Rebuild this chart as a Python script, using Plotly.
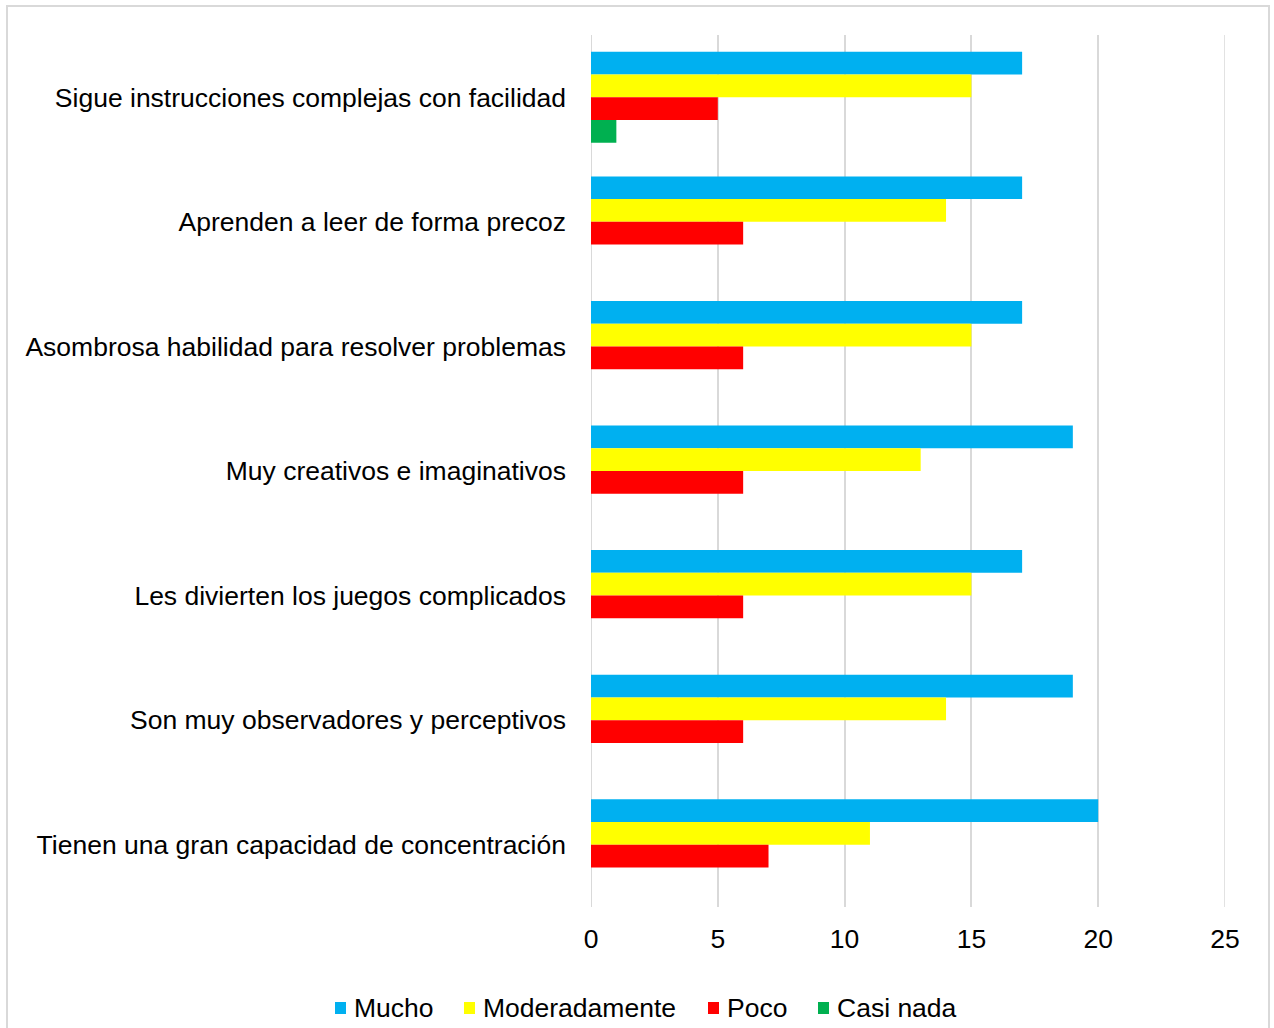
import plotly.graph_objects as go

categories = [
    "Sigue instrucciones complejas con facilidad",
    "Aprenden a leer de forma precoz",
    "Asombrosa habilidad para resolver problemas",
    "Muy creativos e imaginativos",
    "Les divierten los juegos complicados",
    "Son muy observadores y perceptivos",
    "Tienen una gran capacidad de concentración",
]
series_names = ["Mucho", "Moderadamente", "Poco", "Casi nada"]
mucho = [17, 17, 17, 19, 17, 19, 20]
moderadamente = [15, 14, 15, 13, 15, 14, 11]
poco = [5, 6, 6, 6, 6, 6, 7]
casi_nada = [1, 0, 0, 0, 0, 0, 0]
x_ticks = [0, 5, 10, 15, 20, 25]

colors = ["#00B0F0", "#FFFF00", "#FF0000", "#00B050"]
series_values = [mucho, moderadamente, poco, casi_nada]

W, H = 1274, 1028
ML, MR, MT, MB = 591, 49, 35, 121
PW, PH = W - ML - MR, H - MT - MB

def px_x(p):
    return (p - ML) / PW

def px_y(p):
    return (H - MB - p) / PH

FONT = "Liberation Sans, Arial, sans-serif"
FS = 26.5

fig = go.Figure()
for name, vals, col in zip(series_names, series_values, colors):
    fig.add_trace(go.Bar(
        y=categories, x=vals, name=name, orientation="h",
        marker=dict(color=col, line=dict(width=0)), showlegend=False,
    ))

# manual legend (squares + labels), laid out like the reference
legend_square_x = [335, 464, 708, 818]
legend_text_x = [352, 481, 725, 835]
legend_y = 1008
shapes = [
    dict(type="line", xref="x", yref="paper", x0=x_ticks[0], x1=x_ticks[0], y0=0, y1=1,
         line=dict(color="#D9D9D9", width=2), layer="below"),
    dict(type="line", xref="x", yref="paper", x0=x_ticks[-1], x1=x_ticks[-1], y0=0, y1=1,
         line=dict(color="#D9D9D9", width=1.5), layer="below"),
    dict(type="rect", xref="paper", yref="paper",
         x0=px_x(7), x1=px_x(1269), y0=px_y(6), y1=px_y(1040),
         line=dict(color="#D9D9D9", width=2), fillcolor="rgba(0,0,0,0)"),
]
annotations = []
for name, col, sx, tx in zip(series_names, colors, legend_square_x, legend_text_x):
    shapes.append(dict(type="rect", xref="paper", yref="paper",
                       x0=px_x(sx), x1=px_x(sx + 11), y0=px_y(legend_y - 6), y1=px_y(legend_y + 6),
                       line=dict(width=0), fillcolor=col))
    annotations.append(dict(text=name, xref="paper", yref="paper", x=px_x(tx), y=px_y(legend_y),
                            xanchor="left", yanchor="middle", showarrow=False,
                            font=dict(size=FS, family=FONT, color="#000000")))

fig.update_layout(
    width=W, height=H,
    margin=dict(l=ML, r=MR, t=MT, b=MB),
    barmode="group", bargap=0.27, bargroupgap=0,
    plot_bgcolor="white", paper_bgcolor="white",
    font=dict(family=FONT, color="#000000", size=FS),
    xaxis=dict(
        range=[0, 25], tickvals=x_ticks, showgrid=True, gridcolor="#D9D9D9", gridwidth=1.5,
        zeroline=False, showline=False, ticks="", ticklabelstandoff=13,
        tickfont=dict(size=FS),
    ),
    yaxis=dict(
        autorange="reversed", showgrid=False, zeroline=False, showline=False,
        ticks="", ticklabelstandoff=24, tickfont=dict(size=FS),
    ),
    showlegend=False,
    shapes=shapes,
    annotations=annotations,
)

fig.write_html("out.html", config={"displayModeBar": False},
               post_script="document.body.style.margin='0';")
